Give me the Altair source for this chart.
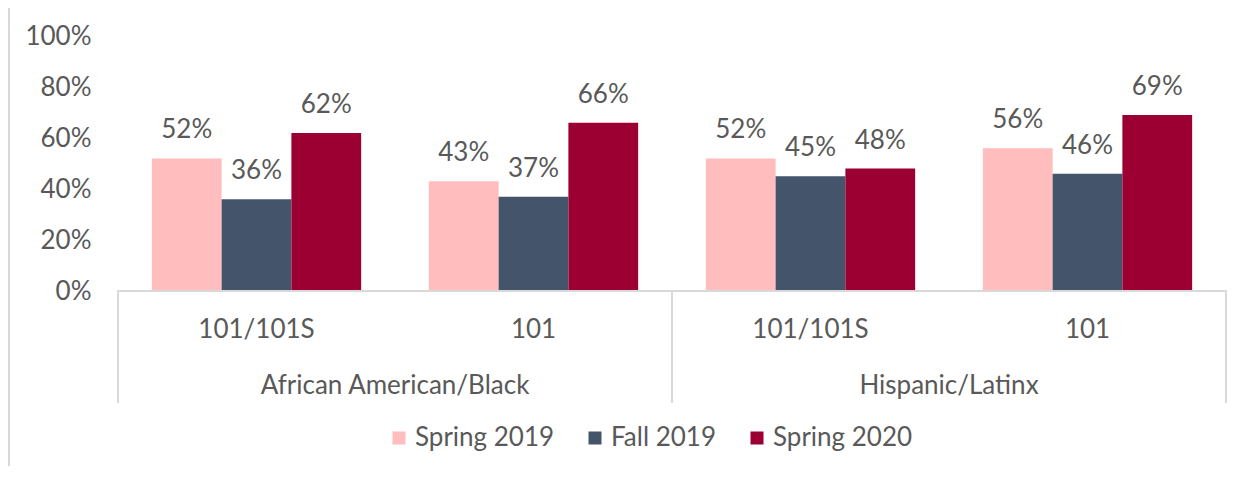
import altair as alt
import pandas as pd

# ---- data ----
groups = ["African American/Black", "Hispanic/Latinx"]
courses = ["101/101S", "101"]
series = ["Spring 2019", "Fall 2019", "Spring 2020"]
colors = ["#FFBDBD", "#44546A", "#9C0032"]

aa_101_101s = [52, 36, 62]
aa_101 = [43, 37, 66]
hl_101_101s = [52, 45, 48]
hl_101 = [56, 46, 69]

series_values = [[aa_101_101s, aa_101], [hl_101_101s, hl_101]]

rows = []
keys = []
for gi, g in enumerate(groups):
    for ci, c in enumerate(courses):
        key = g + "|" + c
        keys.append(key)
        for si, s in enumerate(series):
            rows.append({"key": key, "group": g, "course": c, "series": s,
                         "value": series_values[gi][ci][si]})
df = pd.DataFrame(rows)

# category label positions (in category units along the axis)
sub_df = pd.DataFrame({"pos": [i + 0.5 for i in range(len(keys))],
                       "label": [k.split("|")[1] for k in keys]})
grp_df = pd.DataFrame({"pos": [len(courses) * (i + 0.5) for i in range(len(groups))],
                       "label": groups})
sep_df = pd.DataFrame({"pos": [len(courses) * i for i in range(len(groups) + 1)]})

FONT = "Lato"
FS = 26
TXT = "#595959"
LINE = "#D9D9D9"
W = 1108
H = 255

x_bar = alt.X("key:N", scale=alt.Scale(domain=keys, paddingInner=0, paddingOuter=0), axis=None)
xo = alt.XOffset("series:N", scale=alt.Scale(domain=series, paddingInner=0, paddingOuter=0.485))
y_bar = alt.Y("value:Q", scale=alt.Scale(domain=[0, 100]),
              axis=alt.Axis(values=[0, 20, 40, 60, 80, 100], labelExpr="datum.value + '%'",
                            title=None, grid=False, domain=False, ticks=False, tickSize=0,
                            labelPadding=27, labelFont=FONT, labelFontSize=FS, labelColor=TXT))

base = alt.Chart(df)

bars = base.mark_bar().encode(
    x=x_bar, xOffset=xo, y=y_bar,
    color=alt.Color("series:N", scale=alt.Scale(domain=series, range=colors),
                    legend=alt.Legend(orient="none", legendX=268, legendY=389, direction="horizontal",
                                      title=None, symbolType="square", symbolSize=169,
                                      symbolStrokeWidth=0, labelFont=FONT, labelFontSize=FS,
                                      labelColor=TXT, columnPadding=27, labelOffset=3, padding=0)),
)

labels = base.transform_calculate(lab="datum.value + '%'").mark_text(
    font=FONT, fontSize=FS, color=TXT, baseline="alphabetic", dy=-20
).encode(x=x_bar, xOffset=xo, y=alt.Y("value:Q"), text="lab:N")

xq = alt.Scale(domain=[0, len(keys)], nice=False, zero=False)

sub_text = alt.Chart(sub_df).mark_text(font=FONT, fontSize=FS, color=TXT, baseline="middle").encode(
    x=alt.X("pos:Q", scale=xq, axis=None), y=alt.value(294), text="label:N")
grp_text = alt.Chart(grp_df).mark_text(font=FONT, fontSize=FS, color=TXT, baseline="middle").encode(
    x=alt.X("pos:Q", scale=xq, axis=None), y=alt.value(350), text="label:N")
seps = alt.Chart(sep_df).mark_rule(color=LINE, strokeWidth=2).encode(
    x=alt.X("pos:Q", scale=xq, axis=None), y=alt.value(H), y2=alt.value(367))
hline = alt.Chart(sep_df.head(1)).mark_rule(color=LINE, strokeWidth=2).encode(
    x=alt.value(-1), x2=alt.value(W + 1), y=alt.value(H))
frame = alt.Chart(sep_df.head(1)).mark_rule(color=LINE, strokeWidth=2).encode(
    x=alt.value(-109), y=alt.value(-28), y2=alt.value(H + 180))

chart = alt.layer(bars, labels, hline, frame, seps, sub_text, grp_text).resolve_scale(
    x="independent"
).properties(
    width=W, height=H,
    autosize=alt.AutoSizeParams(type="none"),
    padding={"left": 110, "top": 28, "right": 18, "bottom": 175},
).configure(background="white").configure_view(stroke="transparent", strokeWidth=0)

chart.save("out.html", embed_options={"renderer": "svg", "actions": False})
